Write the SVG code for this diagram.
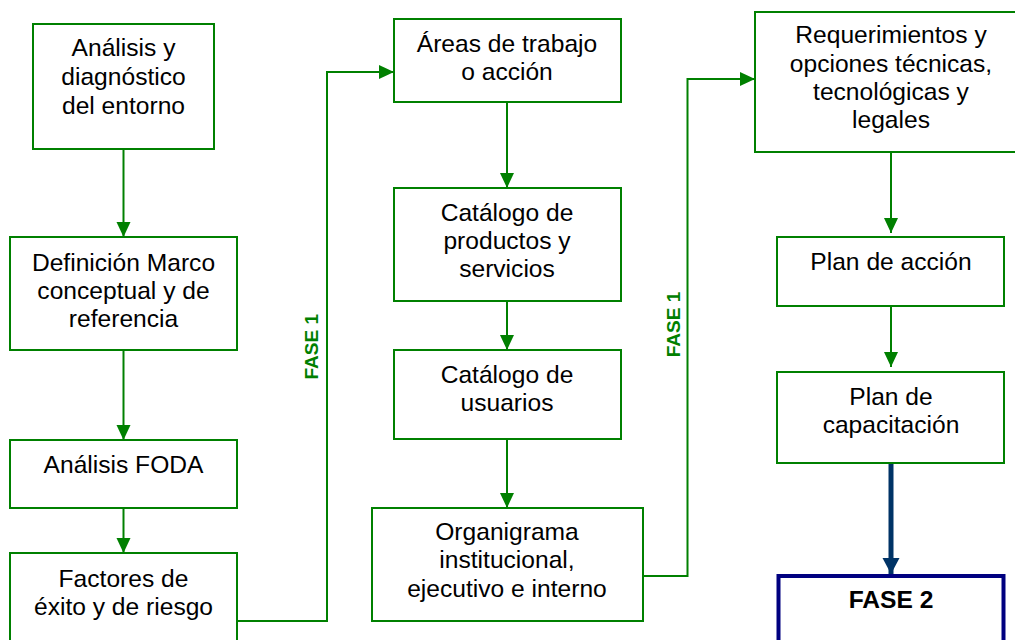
<svg xmlns="http://www.w3.org/2000/svg" width="1015" height="640" viewBox="0 0 1015 640">
<style>
.box{fill:#fff;stroke:#008000;stroke-width:2}
.t{font-family:"Liberation Sans",Arial,sans-serif;font-size:24.6px;fill:#000;text-anchor:middle}
.lbl{font-family:"Liberation Sans",Arial,sans-serif;font-size:19px;font-weight:bold;fill:#008000;text-anchor:middle}
.c{fill:none;stroke:#008000;stroke-width:2}
</style>
<defs>
<marker id="ag" markerUnits="userSpaceOnUse" markerWidth="16" markerHeight="16" viewBox="0 0 16 16" refX="15" refY="8" orient="auto">
<path d="M0,1 L15,8 L0,15 Z" fill="#008000"/>
</marker>
<marker id="an" markerUnits="userSpaceOnUse" markerWidth="18" markerHeight="18" viewBox="0 0 18 18" refX="16" refY="9" orient="auto">
<path d="M0,0.5 L16,9 L0,17.5 Z" fill="#003366"/>
</marker>
</defs>
<rect width="1015" height="640" fill="#fff"/>
<g id="connectors">
<line class="c" x1="123.5" y1="149" x2="123.5" y2="237" marker-end="url(#ag)"/>
<line class="c" x1="123.5" y1="350" x2="123.5" y2="440" marker-end="url(#ag)"/>
<line class="c" x1="123.5" y1="508" x2="123.5" y2="553" marker-end="url(#ag)"/>
<polyline class="c" points="237,621 327,621 327,72 394,72" marker-end="url(#ag)"/>
<line class="c" x1="507" y1="102" x2="507" y2="188" marker-end="url(#ag)"/>
<line class="c" x1="507" y1="301" x2="507" y2="350" marker-end="url(#ag)"/>
<line class="c" x1="507" y1="439" x2="507" y2="508" marker-end="url(#ag)"/>
<polyline class="c" points="643,576 687.5,576 687.5,79 755,79" marker-end="url(#ag)"/>
<line class="c" x1="891" y1="152" x2="891" y2="233" marker-end="url(#ag)"/>
<line class="c" x1="891" y1="306" x2="891" y2="367" marker-end="url(#ag)"/>
<line x1="891" y1="463" x2="891" y2="574" stroke="#003366" stroke-width="5" marker-end="url(#an)"/>
<text class="lbl" transform="translate(318,346.7) rotate(-90)">FASE 1</text>
<text class="lbl" transform="translate(680,324.5) rotate(-90)">FASE 1</text>
</g>
<g id="n1">
<rect class="box" x="33" y="24" width="181" height="125"/>
<text class="t" x="123.5" y="56">Análisis y</text>
<text class="t" x="123.5" y="85">diagnóstico</text>
<text class="t" x="123.5" y="114">del entorno</text>
</g>
<g id="n2">
<rect class="box" x="10" y="237" width="227" height="113"/>
<text class="t" x="123.5" y="271">Definición Marco</text>
<text class="t" x="123.5" y="299">conceptual y de</text>
<text class="t" x="123.5" y="327">referencia</text>
</g>
<g id="n3">
<rect class="box" x="10" y="440" width="227" height="68"/>
<text class="t" x="123.5" y="473">Análisis FODA</text>
</g>
<g id="n4">
<rect class="box" x="10" y="553" width="227" height="100"/>
<text class="t" x="123.5" y="587">Factores de</text>
<text class="t" x="123.5" y="615">éxito y de riesgo</text>
</g>
<g id="n5">
<rect class="box" x="394" y="19" width="227" height="83"/>
<text class="t" x="507" y="52">Áreas de trabajo</text>
<text class="t" x="507" y="80">o acción</text>
</g>
<g id="n6">
<rect class="box" x="394" y="188" width="227" height="113"/>
<text class="t" x="507" y="221">Catálogo de</text>
<text class="t" x="507" y="249">productos y</text>
<text class="t" x="507" y="277">servicios</text>
</g>
<g id="n7">
<rect class="box" x="394" y="350" width="227" height="89"/>
<text class="t" x="507" y="383">Catálogo de</text>
<text class="t" x="507" y="411">usuarios</text>
</g>
<g id="n8">
<rect class="box" x="372" y="508" width="271" height="113"/>
<text class="t" x="507" y="540">Organigrama</text>
<text class="t" x="507" y="568">institucional,</text>
<text class="t" x="507" y="597">ejecutivo e interno</text>
</g>
<g id="n9">
<rect class="box" x="755" y="12" width="270" height="140"/>
<text class="t" x="891" y="43">Requerimientos y</text>
<text class="t" x="891" y="72">opciones técnicas,</text>
<text class="t" x="891" y="100">tecnológicas y</text>
<text class="t" x="891" y="128">legales</text>
</g>
<g id="n10">
<rect class="box" x="777" y="237" width="227" height="69"/>
<text class="t" x="891" y="270">Plan de acción</text>
</g>
<g id="n11">
<rect class="box" x="777" y="372" width="227" height="91"/>
<text class="t" x="891" y="405">Plan de</text>
<text class="t" x="891" y="433">capacitación</text>
</g>
<g id="n12">
<rect x="778.5" y="576" width="225" height="80" fill="#fff" stroke="#000080" stroke-width="4"/>
<text class="t" x="891" y="608" font-weight="bold">FASE 2</text>
</g>
</svg>
